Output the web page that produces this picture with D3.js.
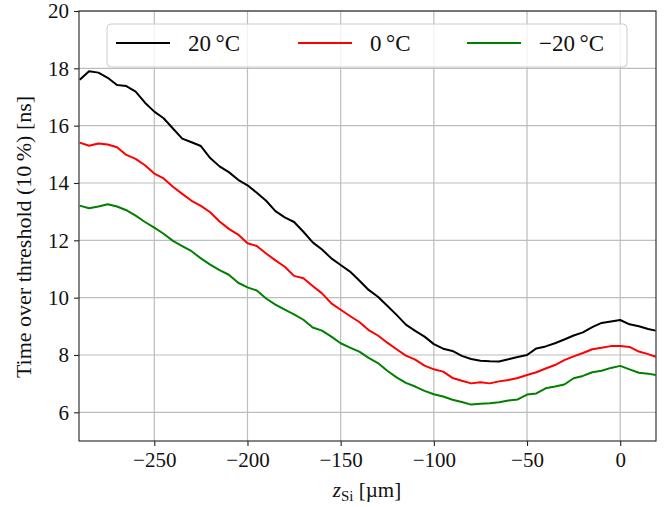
<!DOCTYPE html>
<html>
<head>
<meta charset="utf-8">
<script src="https://cdn.jsdelivr.net/npm/d3@7"></script>
<style>
  body { margin: 0; background: #fff; }
  text { font-family: "Liberation Serif", "DejaVu Serif", serif; }
</style>
</head>
<body>
<div id="canvas"></div>
<script>
"use strict"

// z_Si positions in um (shared by all three curves)
let zSi = [-290, -285, -280, -275, -270, -265, -260, -255, -250, -245, -240, -235, -230, -225, -220, -215,
    -210, -205, -200, -195, -190, -185, -180, -175, -170, -165, -160, -155, -150, -145, -140, -135,
    -130, -125, -120, -115, -110, -105, -100, -95, -90, -85, -80, -75, -70, -65, -60, -55,
    -50, -45, -40, -35, -30, -25, -20, -15, -10, -5, 0, 5, 10, 15, 19]

// time over threshold (10%) in ns
let tot20 = [17.6, 17.9, 17.85, 17.67, 17.42, 17.38, 17.19, 16.8, 16.49, 16.26, 15.9, 15.55, 15.42, 15.29, 14.87, 14.58,
    14.38, 14.11, 13.92, 13.66, 13.38, 13.02, 12.8, 12.64, 12.3, 11.93, 11.68, 11.37, 11.14, 10.91, 10.6, 10.27,
    10.03, 9.72, 9.4, 9.06, 8.84, 8.64, 8.38, 8.22, 8.14, 7.97, 7.86, 7.8, 7.78, 7.77, 7.85, 7.93,
    8.0, 8.23, 8.3, 8.41, 8.54, 8.68, 8.79, 8.97, 9.12, 9.17, 9.22, 9.07, 9.0, 8.91, 8.85]

let tot0 = [15.41, 15.3, 15.38, 15.34, 15.25, 14.98, 14.84, 14.62, 14.33, 14.16, 13.87, 13.62, 13.38, 13.2, 12.98, 12.66,
    12.4, 12.2, 11.9, 11.8, 11.54, 11.3, 11.08, 10.76, 10.68, 10.41, 10.15, 9.8, 9.58, 9.36, 9.15, 8.87,
    8.68, 8.43, 8.2, 7.98, 7.84, 7.63, 7.5, 7.42, 7.2, 7.1, 7.01, 7.05, 7.01, 7.08, 7.13, 7.2,
    7.3, 7.4, 7.53, 7.65, 7.82, 7.95, 8.07, 8.2, 8.25, 8.31, 8.31, 8.28, 8.12, 8.03, 7.94]

let totM20 = [13.21, 13.12, 13.18, 13.26, 13.18, 13.05, 12.86, 12.64, 12.44, 12.23, 11.98, 11.8, 11.62, 11.37, 11.15, 10.96,
    10.8, 10.52, 10.36, 10.25, 9.97, 9.76, 9.58, 9.42, 9.23, 8.96, 8.85, 8.64, 8.41, 8.26, 8.12, 7.9,
    7.72, 7.45, 7.22, 7.03, 6.9, 6.75, 6.63, 6.55, 6.44, 6.36, 6.27, 6.3, 6.32, 6.35, 6.41, 6.45,
    6.62, 6.66, 6.84, 6.9, 6.97, 7.19, 7.27, 7.4, 7.45, 7.55, 7.62, 7.5, 7.38, 7.35, 7.3]

let seriesNames = ["20\u2009°C", "0\u2009°C", "\u221220\u2009°C"]
let seriesColors = ["black", "red", "green"]
let seriesValues = [tot20, tot0, totM20]

let xTicks = [-250, -200, -150, -100, -50, 0]
let yTicks = [6, 8, 10, 12, 14, 16, 18, 20]

let width = 670
let height = 507
let plotLeft = 79, plotRight = 656, plotTop = 11, plotBottom = 441

let drawing = d3.select("#canvas")
    .append("svg")
    .attr("width", width)
    .attr("height", height)

let x = d3.scaleLinear().domain([-290.4, 19.2]).range([plotLeft, plotRight])
let y = d3.scaleLinear().domain([5, 20]).range([plotBottom, plotTop])

// grid
drawing.append("g")
    .selectAll("line")
    .data(xTicks)
    .join("line")
    .attr("x1", d => x(d)).attr("x2", d => x(d))
    .attr("y1", plotTop).attr("y2", plotBottom)
    .attr("stroke", "#bdbdbd")
    .attr("stroke-width", 1.2)

drawing.append("g")
    .selectAll("line")
    .data(yTicks)
    .join("line")
    .attr("x1", plotLeft).attr("x2", plotRight)
    .attr("y1", d => y(d)).attr("y2", d => y(d))
    .attr("stroke", "#bdbdbd")
    .attr("stroke-width", 1.2)

// curves
let plotArea = drawing.append("g")
let line = d3.line()
    .x((d, i) => x(zSi[i]))
    .y(d => y(d))

seriesValues.forEach((vals, k) => {
    plotArea.append("path")
        .attr("d", line(vals))
        .attr("fill", "none")
        .attr("stroke", seriesColors[k])
        .attr("stroke-width", 2)
        .attr("stroke-linejoin", "round")
})

// axes
let xAxis = drawing.append("g")
    .attr("transform", `translate(0,${plotBottom})`)
    .call(d3.axisBottom(x).tickValues(xTicks).tickSize(5).tickPadding(6).tickFormat(d3.format("d")))
let yAxis = drawing.append("g")
    .attr("transform", `translate(${plotLeft},0)`)
    .call(d3.axisLeft(y).tickValues(yTicks).tickSize(5).tickPadding(5).tickFormat(d3.format("d")))

;[xAxis, yAxis].forEach(a => {
    a.select(".domain").remove()
    a.selectAll("text").attr("font-size", 21).attr("fill", "#111")
        .attr("font-family", "'Liberation Serif', serif")
    a.selectAll("line").attr("stroke", "#222").attr("stroke-width", 1.1)
})

// frame
drawing.append("rect")
    .attr("x", plotLeft).attr("y", plotTop)
    .attr("width", plotRight - plotLeft).attr("height", plotBottom - plotTop)
    .attr("fill", "none")
    .attr("stroke", "#222")
    .attr("stroke-width", 1.1)

// legend
let legend = drawing.append("g")
legend.append("rect")
    .attr("x", 107).attr("y", 24)
    .attr("width", 520).attr("height", 43)
    .attr("rx", 4)
    .attr("fill", "white").attr("fill-opacity", 0.8)
    .attr("stroke", "#cccccc")
    .attr("stroke-width", 1)

let legendX = [116, 298, 467]
seriesNames.forEach((name, k) => {
    legend.append("line")
        .attr("x1", legendX[k]).attr("x2", legendX[k] + 54)
        .attr("y1", 43).attr("y2", 43)
        .attr("stroke", seriesColors[k])
        .attr("stroke-width", 2)
    legend.append("text")
        .attr("x", legendX[k] + 72)
        .attr("y", 51)
        .attr("font-size", 23)
        .attr("fill", "#111")
        .text(name)
})

// axis labels
drawing.append("text")
    .attr("x", 367)
    .attr("y", 497)
    .attr("text-anchor", "middle")
    .attr("font-size", 21)
    .attr("fill", "#111")
    .html('<tspan font-style="italic">z</tspan><tspan font-size="15" dy="4">Si</tspan><tspan dy="-4"> [µm]</tspan>')

drawing.append("text")
    .attr("transform", "translate(31,237) rotate(-90)")
    .attr("text-anchor", "middle")
    .attr("font-size", 22)
    .attr("fill", "#111")
    .text("Time over threshold (10\u2009%) [ns]")
</script>
</body>
</html>
